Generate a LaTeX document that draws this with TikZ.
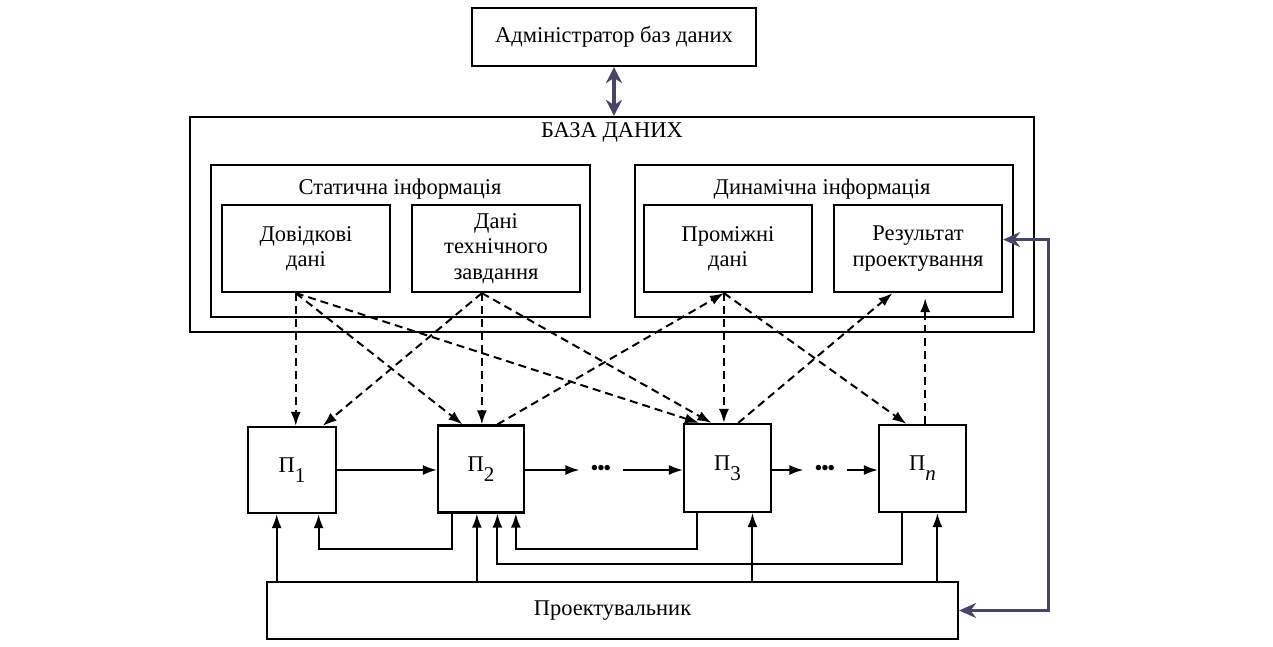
\documentclass[tikz,border=0pt]{standalone}
\usepackage{fontspec}
\setmainfont{Liberation Serif}
\usetikzlibrary{arrows.meta,calc}
\definecolor{linkblue}{RGB}{70,70,102}
\newcommand{\procsub}[1]{П\raisebox{-0.45em}{\fontsize{21}{21}\selectfont #1}}
\begin{document}
\begin{tikzpicture}[x=1pt,y=-1pt,
  box/.style={draw,line width=2.2pt,inner sep=0pt},
  txt/.style={font=\fontsize{22.5}{25.5}\selectfont,align=center},
  flow/.style={line width=2pt,-{Latex[length=14pt,width=10pt]}},
  dashflow/.style={line width=2pt,dash pattern=on 8pt off 5pt,-{Latex[length=14pt,width=10pt]}},
  bluelink/.style={draw=linkblue,line width=2.8pt},
]
\useasboundingbox (0,0) rectangle (1273,646);

% administrator and the database frame
\node[box,txt,minimum width=284pt,minimum height=58pt] (admin) at (614,37) {Адміністратор баз даних};
\node[box,minimum width=844pt,minimum height=215pt] (db) at (612,224.5) {};
\node[txt] (dbtitle) at (612,132) {БАЗА ДАНИХ};

% static and dynamic groups
\node[box,minimum width=379pt,minimum height=152pt] (stat) at (400.5,241) {};
\node[txt] (stattitle) at (400,189) {Статична інформація};
\node[box,minimum width=378pt,minimum height=152pt] (dyn) at (824,241) {};
\node[txt] (dyntitle) at (822,189) {Динамічна інформація};

\node[box,txt,minimum width=168pt,minimum height=87pt] (dov) at (306,248.5) {Довідкові\\дані};
\node[box,txt,minimum width=168pt,minimum height=87pt] (tz) at (496,248.5) {Дані\\технічного\\завдання};
\node[box,txt,minimum width=168pt,minimum height=87pt] (prom) at (728,248.5) {Проміжні\\дані};
\node[box,txt,minimum width=168pt,minimum height=87pt] (res) at (918,248.5) {Результат\\проектування};

% design procedures
\node[box,txt,minimum width=88pt,minimum height=86pt] (p1) at (292,470) {\procsub{1}};
\node[box,txt,minimum width=86pt,minimum height=87pt] (p2) at (481,469) {\procsub{2}};
\node[box,txt,minimum width=87pt,minimum height=88pt] (p3) at (727.5,468) {\procsub{3}};
\node[box,txt,minimum width=87pt,minimum height=87pt] (pn) at (922.5,468.5) {\procsub{\textit{n}}};

\node[box,txt,minimum width=691pt,minimum height=57pt] (proj) at (612.5,610.5) {Проектувальник};

\node[txt,inner xsep=11pt,inner ysep=0pt] (dA) at (601,470) {\textbullet\kern-1.5pt\textbullet\kern-1.5pt\textbullet};
\node[txt,inner xsep=11pt,inner ysep=0pt] (dB) at (825,470) {\textbullet\kern-1.5pt\textbullet\kern-1.5pt\textbullet};

% attachment points on the box edges
\path
  ($(dov.south west)!.44!(dov.south east)$) coordinate (dovB)
  ($(tz.south west)!.417!(tz.south east)$) coordinate (tzB)
  ($(prom.south west)!.476!(prom.south east)$) coordinate (promB)
  ($(res.south west)!.35!(res.south east)$) coordinate (resB)
  ($(res.south west)!.54!(res.south east)$) coordinate (resB2)
  ($(res.north east)!.4!(res.south east)$) coordinate (resE)
  ($(p1.north west)!.84!(p1.north east)$) coordinate (p1T)
  ($(p2.north west)!.29!(p2.north east)$) coordinate (p2T1)
  ($(p2.north west)!.686!(p2.north east)$) coordinate (p2T2)
  ($(p3.north west)!.18!(p3.north east)$) coordinate (p3T1)
  ($(p3.north west)!.32!(p3.north east)$) coordinate (p3T2)
  ($(p3.north west)!.62!(p3.north east)$) coordinate (p3T3)
  ($(pn.north west)!.32!(pn.north east)$) coordinate (pnT1)
  ($(pn.north west)!.53!(pn.north east)$) coordinate (pnT2)
  ($(p1.south west)!.33!(p1.south east)$) coordinate (p1in1)
  ($(p1.south west)!.795!(p1.south east)$) coordinate (p1in2)
  ($(p2.south west)!.174!(p2.south east)$) coordinate (p2out)
  ($(p2.south west)!.453!(p2.south east)$) coordinate (p2in1)
  ($(p2.south west)!.686!(p2.south east)$) coordinate (p2in2)
  ($(p2.south west)!.895!(p2.south east)$) coordinate (p2in3)
  ($(p3.south west)!.16!(p3.south east)$) coordinate (p3out)
  ($(p3.south west)!.78!(p3.south east)$) coordinate (p3in)
  ($(pn.south west)!.265!(pn.south east)$) coordinate (pnout)
  ($(pn.south west)!.667!(pn.south east)$) coordinate (pnin);

% administrator <-> database
\draw[bluelink,line width=3.6pt,{Stealth[length=16pt,width=16pt]}-{Stealth[length=16pt,width=16pt]}]
  (admin.south) -- (admin.south |- db.north);

% forward chain of procedures
\draw[flow] (p1.east) -- (p1.east -| p2.west);
\draw[flow] (p2.east |- dA) -- (dA.west);
\draw[flow] (dA.east) -- (dA -| p3.west);
\draw[flow] (p3.east |- dB) -- (dB.west);
\draw[flow] (dB.east) -- (dB -| pn.west);

% designer inputs
\draw[flow] (proj.north -| p1in1) -- (p1in1);
\draw[flow] (proj.north -| p2in1) -- (p2in1);
\draw[flow] (proj.north -| p3in) -- (p3in);
\draw[flow] (proj.north -| pnin) -- (pnin);

% feedback loops
\draw[flow] (p2out) -- ++(0,35) -| (p1in2);
\draw[flow] (p3out) -- ++(0,36) -| (p2in3);
\draw[flow] (pnout) -- ++(0,51) -| (p2in2);

% data exchange with the database
\draw[dashflow] (dovB) -- (dovB |- p1.north);
\draw[dashflow] (dovB) -- (p2T1);
\draw[dashflow] (dovB) -- (p3T1);
\draw[dashflow] (tzB) -- (p1T);
\draw[dashflow] (tzB) -- (tzB |- p2.north);
\draw[dashflow] (tzB) -- (p3T2);
\draw[dashflow] (p2T2) -- (promB);
\draw[dashflow] (promB) -- (promB |- p3.north);
\draw[dashflow] (promB) -- (pnT1);
\draw[dashflow] (p3T3) -- (resB);
\draw[dashflow,shorten >=5pt] (pnT2 |- pn.north) -- (pnT2 |- res.south);

% designer <-> design result
\draw[bluelink,{Stealth[length=17pt,width=15pt]}-{Stealth[length=17pt,width=15pt]}]
  (resE) -- ++(45,0) |- (proj.east);
\end{tikzpicture}
\end{document}
